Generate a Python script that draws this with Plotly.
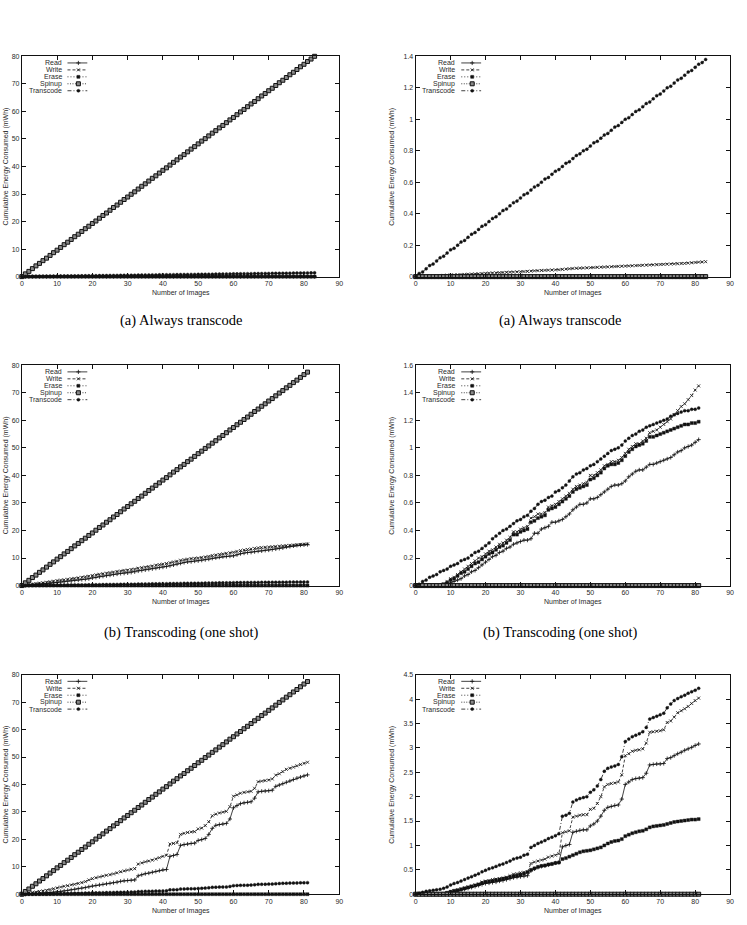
import plotly.graph_objects as go

W, H = 747, 925

# ---------------- data (cumulative energy, mWh) ----------------
ZERO_84 = [0, 0, 0, 0, 0, 0, 0, 0, 0, 0,
           0, 0, 0, 0, 0, 0, 0, 0, 0, 0,
           0, 0, 0, 0, 0, 0, 0, 0, 0, 0,
           0, 0, 0, 0, 0, 0, 0, 0, 0, 0,
           0, 0, 0, 0, 0, 0, 0, 0, 0, 0,
           0, 0, 0, 0, 0, 0, 0, 0, 0, 0,
           0, 0, 0, 0, 0, 0, 0, 0, 0, 0,
           0, 0, 0, 0, 0, 0, 0, 0, 0, 0,
           0, 0, 0, 0]
ZERO_82 = [0, 0, 0, 0, 0, 0, 0, 0, 0, 0,
           0, 0, 0, 0, 0, 0, 0, 0, 0, 0,
           0, 0, 0, 0, 0, 0, 0, 0, 0, 0,
           0, 0, 0, 0, 0, 0, 0, 0, 0, 0,
           0, 0, 0, 0, 0, 0, 0, 0, 0, 0,
           0, 0, 0, 0, 0, 0, 0, 0, 0, 0,
           0, 0, 0, 0, 0, 0, 0, 0, 0, 0,
           0, 0, 0, 0, 0, 0, 0, 0, 0, 0,
           0, 0]

A_SPINUP = [0.0, 1.0, 1.9, 2.9, 3.9, 4.8, 5.8, 6.7, 7.7, 8.7,
            9.6, 10.6, 11.6, 12.5, 13.5, 14.5, 15.4, 16.4, 17.4, 18.3,
            19.3, 20.2, 21.2, 22.2, 23.1, 24.1, 25.1, 26.0, 27.0, 28.0,
            28.9, 29.9, 30.8, 31.8, 32.8, 33.7, 34.7, 35.7, 36.6, 37.6,
            38.6, 39.5, 40.5, 41.5, 42.4, 43.4, 44.3, 45.3, 46.3, 47.2,
            48.2, 49.2, 50.1, 51.1, 52.1, 53.0, 54.0, 54.9, 55.9, 56.9,
            57.8, 58.8, 59.8, 60.7, 61.7, 62.7, 63.6, 64.6, 65.6, 66.5,
            67.5, 68.4, 69.4, 70.4, 71.3, 72.3, 73.3, 74.2, 75.2, 76.2,
            77.1, 78.1, 79.0, 80.0]
A_TRANSCODE = [0.00, 0.02, 0.03, 0.05, 0.07, 0.08, 0.10, 0.12, 0.13, 0.15,
               0.17, 0.18, 0.20, 0.22, 0.23, 0.25, 0.27, 0.28, 0.30, 0.32,
               0.33, 0.35, 0.37, 0.38, 0.40, 0.42, 0.43, 0.45, 0.47, 0.48,
               0.50, 0.52, 0.53, 0.55, 0.57, 0.58, 0.60, 0.62, 0.63, 0.65,
               0.67, 0.68, 0.70, 0.72, 0.73, 0.75, 0.77, 0.78, 0.80, 0.81,
               0.83, 0.85, 0.86, 0.88, 0.90, 0.91, 0.93, 0.95, 0.96, 0.98,
               1.00, 1.01, 1.03, 1.05, 1.06, 1.08, 1.10, 1.11, 1.13, 1.15,
               1.16, 1.18, 1.20, 1.21, 1.23, 1.25, 1.26, 1.28, 1.30, 1.31,
               1.33, 1.35, 1.36, 1.38]
A_WRITE_FLASH = [0.000, 0.001, 0.002, 0.003, 0.004, 0.005, 0.006, 0.007, 0.008, 0.009,
                 0.010, 0.011, 0.012, 0.013, 0.014, 0.015, 0.016, 0.017, 0.018, 0.019,
                 0.021, 0.022, 0.023, 0.024, 0.025, 0.026, 0.027, 0.028, 0.029, 0.030,
                 0.031, 0.032, 0.033, 0.035, 0.037, 0.038, 0.039, 0.040, 0.041, 0.042,
                 0.043, 0.044, 0.046, 0.048, 0.050, 0.052, 0.053, 0.054, 0.055, 0.056,
                 0.057, 0.058, 0.059, 0.060, 0.061, 0.062, 0.063, 0.064, 0.065, 0.066,
                 0.067, 0.068, 0.069, 0.070, 0.071, 0.072, 0.073, 0.074, 0.075, 0.076,
                 0.077, 0.078, 0.079, 0.080, 0.081, 0.082, 0.083, 0.084, 0.086, 0.088,
                 0.090, 0.092, 0.093, 0.095]

B_SPINUP = [0.0, 1.0, 1.9, 2.9, 3.8, 4.8, 5.7, 6.7, 7.7, 8.6,
            9.6, 10.5, 11.5, 12.4, 13.4, 14.4, 15.3, 16.3, 17.2, 18.2,
            19.1, 20.1, 21.1, 22.0, 23.0, 23.9, 24.9, 25.8, 26.8, 27.8,
            28.7, 29.7, 30.6, 31.6, 32.5, 33.5, 34.5, 35.4, 36.4, 37.3,
            38.3, 39.2, 40.2, 41.2, 42.1, 43.1, 44.0, 45.0, 45.9, 46.9,
            47.9, 48.8, 49.8, 50.7, 51.7, 52.6, 53.6, 54.5, 55.5, 56.5,
            57.4, 58.4, 59.3, 60.3, 61.2, 62.2, 63.2, 64.1, 65.1, 66.0,
            67.0, 67.9, 68.9, 69.9, 70.8, 71.8, 72.7, 73.7, 74.6, 75.6,
            76.6, 77.5]
B_WRITE_HDD = [0.0, 0.2, 0.4, 0.5, 0.7, 0.9, 1.0, 1.2, 1.4, 1.6,
               1.8, 2.0, 2.1, 2.3, 2.5, 2.6, 2.8, 3.0, 3.2, 3.4,
               3.6, 3.9, 4.1, 4.3, 4.5, 4.7, 4.9, 5.1, 5.3, 5.5,
               5.6, 5.8, 6.0, 6.3, 6.5, 6.7, 6.9, 7.1, 7.4, 7.6,
               7.8, 8.0, 8.3, 8.6, 8.8, 9.2, 9.4, 9.6, 9.8, 9.9,
               10.0, 10.2, 10.4, 10.6, 10.9, 11.1, 11.3, 11.5, 11.7, 11.9,
               12.1, 12.4, 12.7, 12.9, 13.1, 13.3, 13.5, 13.7, 13.8, 13.9,
               14.0, 14.1, 14.2, 14.3, 14.4, 14.5, 14.6, 14.7, 14.8, 14.9,
               15.0, 15.1]
B_READ_HDD = [0.0, 0.1, 0.2, 0.3, 0.4, 0.5, 0.6, 0.7, 0.8, 1.0,
              1.1, 1.3, 1.4, 1.6, 1.7, 1.9, 2.0, 2.2, 2.3, 2.5,
              2.8, 3.0, 3.2, 3.4, 3.6, 3.8, 4.0, 4.2, 4.4, 4.5,
              4.6, 4.8, 5.0, 5.3, 5.5, 5.7, 5.9, 6.1, 6.3, 6.5,
              6.7, 6.9, 7.2, 7.5, 7.8, 8.1, 8.4, 8.6, 8.7, 8.9,
              9.0, 9.2, 9.4, 9.6, 9.9, 10.1, 10.3, 10.5, 10.6, 10.7,
              10.8, 11.2, 11.6, 11.8, 12.0, 12.1, 12.3, 12.5, 12.6, 12.8,
              12.9, 13.1, 13.3, 13.5, 13.7, 14.0, 14.2, 14.4, 14.6, 14.7,
              14.8, 14.9]
B_TRANSCODE = [0.00, 0.01, 0.03, 0.04, 0.06, 0.07, 0.08, 0.10, 0.11, 0.12,
               0.14, 0.15, 0.16, 0.18, 0.19, 0.20, 0.22, 0.24, 0.25, 0.27,
               0.29, 0.31, 0.34, 0.36, 0.38, 0.40, 0.41, 0.43, 0.45, 0.47,
               0.48, 0.50, 0.51, 0.54, 0.56, 0.59, 0.61, 0.62, 0.64, 0.65,
               0.68, 0.69, 0.71, 0.73, 0.76, 0.79, 0.81, 0.82, 0.84, 0.85,
               0.87, 0.88, 0.90, 0.92, 0.94, 0.96, 0.98, 0.99, 1.00, 1.02,
               1.05, 1.07, 1.09, 1.10, 1.12, 1.13, 1.15, 1.16, 1.17, 1.18,
               1.19, 1.20, 1.21, 1.23, 1.24, 1.25, 1.26, 1.27, 1.27, 1.28,
               1.28, 1.29]
B_WRITE_FLASH = [0, 0, 0, 0, 0, 0, 0, 0, 0.01, 0.03,
                 0.05, 0.06, 0.08, 0.10, 0.12, 0.14, 0.16, 0.18, 0.20, 0.21,
                 0.23, 0.25, 0.26, 0.28, 0.30, 0.31, 0.33, 0.35, 0.39, 0.39,
                 0.41, 0.42, 0.43, 0.49, 0.50, 0.52, 0.52, 0.53, 0.57, 0.58,
                 0.59, 0.61, 0.63, 0.65, 0.67, 0.70, 0.72, 0.73, 0.74, 0.75,
                 0.80, 0.80, 0.82, 0.84, 0.87, 0.88, 0.90, 0.90, 0.91, 0.93,
                 0.96, 0.99, 1.01, 1.03, 1.03, 1.05, 1.07, 1.11, 1.12, 1.13,
                 1.15, 1.17, 1.19, 1.21, 1.24, 1.27, 1.30, 1.32, 1.35, 1.38,
                 1.42, 1.45]
B_ERASE_FLASH = [0, 0, 0, 0, 0, 0, 0, 0, 0.01, 0.02,
                 0.04, 0.05, 0.07, 0.09, 0.10, 0.12, 0.14, 0.16, 0.17, 0.19,
                 0.21, 0.23, 0.24, 0.26, 0.28, 0.29, 0.31, 0.33, 0.37, 0.37,
                 0.39, 0.40, 0.41, 0.46, 0.47, 0.49, 0.50, 0.51, 0.55, 0.56,
                 0.57, 0.59, 0.61, 0.63, 0.65, 0.68, 0.70, 0.71, 0.72, 0.73,
                 0.77, 0.78, 0.80, 0.82, 0.85, 0.87, 0.88, 0.88, 0.89, 0.91,
                 0.94, 0.97, 0.99, 1.01, 1.02, 1.03, 1.05, 1.08, 1.08, 1.09,
                 1.10, 1.11, 1.12, 1.13, 1.14, 1.15, 1.16, 1.17, 1.17, 1.18,
                 1.18, 1.19]
B_READ_FLASH = [0, 0, 0, 0, 0, 0, 0, 0, 0.00, 0.01,
                0.02, 0.03, 0.04, 0.05, 0.07, 0.08, 0.10, 0.11, 0.13, 0.15,
                0.17, 0.19, 0.21, 0.22, 0.24, 0.25, 0.27, 0.28, 0.30, 0.31,
                0.32, 0.33, 0.33, 0.34, 0.38, 0.38, 0.41, 0.42, 0.43, 0.46,
                0.46, 0.47, 0.48, 0.50, 0.52, 0.55, 0.57, 0.59, 0.59, 0.60,
                0.63, 0.63, 0.64, 0.66, 0.68, 0.70, 0.72, 0.73, 0.73, 0.74,
                0.76, 0.79, 0.81, 0.83, 0.84, 0.84, 0.86, 0.88, 0.88, 0.89,
                0.90, 0.91, 0.92, 0.93, 0.95, 0.97, 0.98, 1.00, 1.01, 1.02,
                1.04, 1.06]

C_TRANSCODE = [0.00, 0.02, 0.04, 0.06, 0.07, 0.08, 0.09, 0.10, 0.12, 0.15,
               0.19, 0.22, 0.24, 0.27, 0.30, 0.33, 0.36, 0.39, 0.42, 0.46,
               0.49, 0.52, 0.54, 0.57, 0.60, 0.62, 0.65, 0.68, 0.72, 0.74,
               0.76, 0.80, 0.82, 0.96, 1.00, 1.04, 1.07, 1.10, 1.14, 1.17,
               1.20, 1.24, 1.60, 1.62, 1.66, 1.89, 1.93, 1.96, 1.98, 2.00,
               2.09, 2.14, 2.22, 2.35, 2.52, 2.58, 2.61, 2.63, 2.66, 2.82,
               3.13, 3.18, 3.23, 3.26, 3.29, 3.33, 3.42, 3.59, 3.62, 3.65,
               3.68, 3.71, 3.82, 3.90, 3.97, 4.01, 4.05, 4.08, 4.12, 4.15,
               4.18, 4.22]
C_WRITE_FLASH = [0, 0, 0, 0, 0, 0, 0, 0, 0.01, 0.03,
                 0.05, 0.07, 0.09, 0.11, 0.13, 0.15, 0.17, 0.19, 0.21, 0.25,
                 0.27, 0.28, 0.30, 0.31, 0.32, 0.33, 0.35, 0.38, 0.41, 0.42,
                 0.44, 0.45, 0.46, 0.63, 0.66, 0.68, 0.70, 0.72, 0.76, 0.78,
                 0.80, 0.83, 1.26, 1.28, 1.30, 1.58, 1.60, 1.62, 1.63, 1.63,
                 1.74, 1.76, 1.86, 2.00, 2.20, 2.25, 2.27, 2.28, 2.30, 2.45,
                 2.84, 2.88, 2.93, 2.95, 2.96, 2.98, 3.10, 3.32, 3.33, 3.34,
                 3.35, 3.37, 3.52, 3.55, 3.63, 3.72, 3.76, 3.80, 3.85, 3.91,
                 3.97, 4.02]
C_READ_FLASH = [0, 0, 0, 0, 0, 0, 0, 0, 0.00, 0.01,
                0.03, 0.05, 0.07, 0.09, 0.10, 0.12, 0.14, 0.16, 0.18, 0.20,
                0.22, 0.23, 0.24, 0.25, 0.27, 0.28, 0.30, 0.32, 0.34, 0.35,
                0.36, 0.37, 0.38, 0.48, 0.52, 0.55, 0.57, 0.58, 0.60, 0.62,
                0.64, 0.65, 0.97, 1.00, 1.02, 1.27, 1.29, 1.31, 1.32, 1.32,
                1.40, 1.44, 1.50, 1.60, 1.72, 1.78, 1.80, 1.82, 1.83, 1.95,
                2.25, 2.30, 2.35, 2.37, 2.38, 2.39, 2.48, 2.65, 2.66, 2.67,
                2.67, 2.68, 2.78, 2.80, 2.84, 2.88, 2.91, 2.95, 2.98, 3.01,
                3.05, 3.08]
C_ERASE_FLASH = [0, 0, 0, 0, 0, 0, 0, 0, 0.01, 0.03,
                 0.05, 0.07, 0.08, 0.10, 0.12, 0.14, 0.16, 0.18, 0.20, 0.23,
                 0.25, 0.26, 0.27, 0.29, 0.30, 0.32, 0.33, 0.35, 0.37, 0.38,
                 0.40, 0.42, 0.45, 0.50, 0.53, 0.56, 0.58, 0.59, 0.61, 0.62,
                 0.64, 0.65, 0.72, 0.74, 0.77, 0.80, 0.83, 0.86, 0.88, 0.89,
                 0.90, 0.92, 0.94, 0.96, 1.00, 1.04, 1.07, 1.09, 1.10, 1.13,
                 1.19, 1.22, 1.25, 1.27, 1.29, 1.30, 1.33, 1.37, 1.39, 1.40,
                 1.41, 1.42, 1.44, 1.46, 1.48, 1.49, 1.50, 1.51, 1.52, 1.53,
                 1.53, 1.54]
C_WRITE_HDD = [0.0, 0.2, 0.4, 0.6, 0.8, 1.0, 1.2, 1.4, 1.7, 2.0,
               2.3, 2.6, 2.9, 3.1, 3.4, 3.6, 3.9, 4.2, 4.6, 5.2,
               5.7, 6.0, 6.3, 6.6, 6.9, 7.1, 7.4, 7.8, 8.2, 8.5,
               8.8, 9.1, 9.3, 11.0, 11.4, 11.8, 12.1, 12.4, 12.8, 13.3,
               13.8, 14.2, 18.3, 18.5, 18.8, 21.8, 22.2, 22.5, 22.7, 22.8,
               23.8, 24.1, 25.0, 26.4, 28.6, 29.2, 29.6, 29.9, 30.2, 31.9,
               35.7, 36.2, 36.8, 37.1, 37.3, 37.5, 38.6, 41.0, 41.2, 41.4,
               41.6, 42.0, 43.4, 43.9, 44.7, 45.5, 45.9, 46.3, 46.8, 47.3,
               47.7, 48.1]
C_READ_HDD = [0.0, 0.0, 0.1, 0.1, 0.2, 0.3, 0.4, 0.5, 0.6, 0.7,
              0.8, 1.0, 1.2, 1.4, 1.6, 1.8, 2.0, 2.2, 2.4, 2.7,
              3.0, 3.2, 3.4, 3.6, 3.8, 4.0, 4.2, 4.4, 4.7, 4.9,
              5.0, 5.1, 5.2, 6.7, 7.1, 7.5, 7.7, 8.0, 8.3, 8.6,
              8.9, 9.0, 13.8, 14.1, 14.5, 17.8, 18.1, 18.3, 18.5, 18.6,
              19.6, 19.9, 20.3, 21.8, 24.0, 25.1, 25.4, 25.6, 25.8, 27.4,
              31.5, 32.3, 33.0, 33.3, 33.5, 33.7, 35.0, 37.3, 37.5, 37.6,
              37.7, 37.9, 39.3, 39.8, 40.3, 40.8, 41.3, 41.8, 42.3, 42.7,
              43.1, 43.5]

SERIES = ["Read", "Write", "Erase", "Spinup", "Transcode"]
CAPTIONS = ["(a) Always transcode", "(b) Transcoding (one shot)"]
X_TITLE = "Number of Images"
Y_TITLE = "Cumulative Energy Consumed (mWh)"

PANELS = [
    dict(col=0, row=0, ymax=80, dtick=10,
         data=dict(Read=ZERO_84, Write=ZERO_84, Erase=ZERO_84, Spinup=A_SPINUP, Transcode=A_TRANSCODE)),
    dict(col=1, row=0, ymax=1.4, dtick=0.2,
         data=dict(Read=ZERO_84, Write=A_WRITE_FLASH, Erase=ZERO_84, Spinup=ZERO_84, Transcode=A_TRANSCODE)),
    dict(col=0, row=1, ymax=80, dtick=10,
         data=dict(Read=B_READ_HDD, Write=B_WRITE_HDD, Erase=ZERO_82, Spinup=B_SPINUP, Transcode=B_TRANSCODE)),
    dict(col=1, row=1, ymax=1.6, dtick=0.2,
         data=dict(Read=B_READ_FLASH, Write=B_WRITE_FLASH, Erase=B_ERASE_FLASH, Spinup=ZERO_82, Transcode=B_TRANSCODE)),
    dict(col=0, row=2, ymax=80, dtick=10,
         data=dict(Read=C_READ_HDD, Write=C_WRITE_HDD, Erase=ZERO_82, Spinup=B_SPINUP, Transcode=C_TRANSCODE)),
    dict(col=1, row=2, ymax=4.5, dtick=0.5,
         data=dict(Read=C_READ_FLASH, Write=C_WRITE_FLASH, Erase=C_ERASE_FLASH, Spinup=ZERO_82, Transcode=C_TRANSCODE)),
]

# ---------------- styles / geometry ----------------
INK = "#111111"
TXT = "#2a2a2a"
SANS = "Liberation Sans, Arial, sans-serif"
SERIF = "Liberation Serif, Times New Roman, serif"

STYLE = {
    "Read": dict(dash="solid", symbol="cross-thin", size=3, lw=0.8),
    "Write": dict(dash="3px,2px", symbol="x-thin", size=3, lw=0.8),
    "Erase": dict(dash="1px,2px", symbol="square", size=3, lw=0.4),
    "Spinup": dict(dash="1px,1.5px", symbol="square", size=4, lw=1.0, fill="#888888"),
    "Transcode": dict(dash="4px,2px,1px,2px", symbol="circle", size=3, lw=0.4),
}

X_PIX = {0: (20, 340), 1: (417, 734)}
Y_PIX = {0: (52.7, 274.7), 1: (364, 586), 2: (675.8, 897)}
CAPTION_X = {0: 180, 1: 563}
CAPTION_Y = {0: 319, 1: 633}
YTITLE_X = {0: 4.0, 1: 393.5}


def px(x):
    return x / W


def py(y):
    return 1 - y / H


def marker_of(name):
    st = STYLE[name]
    return dict(symbol=st["symbol"], size=st["size"], color=st.get("fill", INK),
                line=dict(color=INK, width=st["lw"]))


fig = go.Figure()
layout = dict(
    width=W, height=H, margin=dict(l=0, r=0, t=0, b=0),
    paper_bgcolor="white", plot_bgcolor="rgba(0,0,0,0)",
    showlegend=False, font=dict(family=SANS, size=7, color=TXT),
)
annotations = []

for i, p in enumerate(PANELS):
    n = i + 1
    xs = "" if n == 1 else str(n)
    xa, ya = "x" + xs, "y" + xs
    L, R = X_PIX[p["col"]]
    T, B = Y_PIX[p["row"]]
    common = dict(showline=True, linecolor=INK, linewidth=1, mirror="ticks",
                  ticks="inside", ticklen=4, tickwidth=1, tickcolor=INK,
                  showgrid=False, zeroline=False,
                  tickfont=dict(family=SANS, size=7, color=TXT))
    layout["xaxis" + xs] = dict(domain=[px(L), px(R)], anchor=ya, range=[0, 90],
                                tick0=0, dtick=10, **common)
    layout["yaxis" + xs] = dict(domain=[py(B), py(T)], anchor=xa, range=[0, p["ymax"]],
                                tick0=0, dtick=p["dtick"], **common)
    for name in SERIES:
        yv = p["data"][name]
        st = STYLE[name]
        fig.add_trace(go.Scatter(
            x=list(range(len(yv))), y=yv, xaxis=xa, yaxis=ya, name=name,
            mode="lines+markers", cliponaxis=False,
            line=dict(color=INK, width=0.8, dash=st["dash"]),
            marker=marker_of(name),
        ))
    # in-plot legend (text right-aligned, sample to the right)
    for k, name in enumerate(SERIES):
        st = STYLE[name]
        yy = T + 6.7 + 7 * k
        annotations.append(dict(xref="paper", yref="paper", x=px(L + 42), y=py(yy),
                                xanchor="right", yanchor="middle", showarrow=False,
                                text=name, font=dict(family=SANS, size=7, color=TXT)))
        fig.add_trace(go.Scatter(x=[L + 46, L + 66], y=[yy, yy], xaxis="x7", yaxis="y7",
                                 mode="lines", hoverinfo="skip",
                                 line=dict(color=INK, width=0.8, dash=st["dash"])))
        fig.add_trace(go.Scatter(x=[L + 57], y=[yy], xaxis="x7", yaxis="y7",
                                 mode="markers", hoverinfo="skip", marker=marker_of(name)))
    # axis titles
    annotations.append(dict(xref="paper", yref="paper", x=px((L + R) / 2), y=py(B + 17),
                            xanchor="center", yanchor="middle", showarrow=False,
                            text=X_TITLE, font=dict(family=SANS, size=7, color=TXT)))
    annotations.append(dict(xref="paper", yref="paper", x=px(YTITLE_X[p["col"]]), y=py((T + B) / 2),
                            xanchor="center", yanchor="middle", showarrow=False, textangle=-90,
                            text=Y_TITLE, font=dict(family=SANS, size=7, color=TXT)))
    # caption (the third row's caption lies below the visible page)
    if p["row"] in CAPTION_Y:
        annotations.append(dict(xref="paper", yref="paper", x=px(CAPTION_X[p["col"]]),
                                y=py(CAPTION_Y[p["row"]]), xanchor="center", yanchor="middle",
                                showarrow=False, text=CAPTIONS[p["row"]],
                                font=dict(family=SERIF, size=14.5, color="black")))

layout["xaxis7"] = dict(domain=[0, 1], range=[0, W], visible=False, anchor="y7", fixedrange=True)
layout["yaxis7"] = dict(domain=[0, 1], range=[H, 0], visible=False, anchor="x7", fixedrange=True)
layout["annotations"] = annotations

fig.update_layout(**layout)
fig.write_html("out.html")
